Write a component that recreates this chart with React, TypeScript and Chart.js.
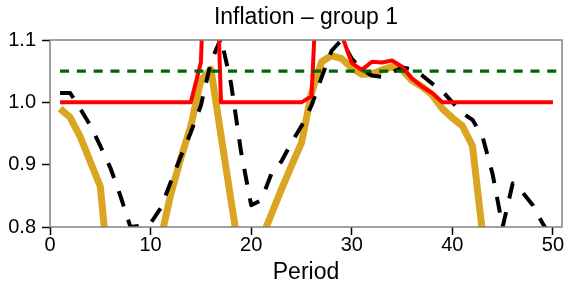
import React, { useEffect, useRef } from "react";
import { Chart, registerables } from "chart.js";

Chart.register(...registerables);

const periods = [
  1, 2, 3, 4, 5, 6, 7, 8, 9, 10, 11, 12, 13, 14, 15, 16, 17, 18, 19, 20, 21, 22, 23, 24, 25,
  26, 27, 28, 29, 30, 31, 32, 33, 34, 35, 36, 37, 38, 39, 40, 41, 42, 43, 44, 45, 46, 47, 48, 49, 50,
];

const redValues = [
  1.0, 1.0, 1.0, 1.0, 1.0, 1.0, 1.0, 1.0, 1.0, 1.0, 1.0, 1.0, 1.0, 1.0, 1.064, 1.5, 1.0, 1.0, 1.0, 1.0,
  1.0, 1.0, 1.0, 1.0, 1.0, 1.01, 1.35, 1.25, 1.108, 1.063, 1.052, 1.065, 1.064, 1.067, 1.057, 1.038, 1.025, 1.015, 1.0, 1.0,
  1.0, 1.0, 1.0, 1.0, 1.0, 1.0, 1.0, 1.0, 1.0, 1.0,
];

const blackValues = [
  1.015, 1.015, 0.99, 0.963, 0.93, 0.895, 0.85, 0.8, 0.802, 0.806, 0.83, 0.872, 0.913, 0.952, 0.995, 1.065, 1.103, 1.03, 0.92, 0.835,
  0.843, 0.885, 0.905, 0.935, 0.962, 0.995, 1.04, 1.083, 1.1, 1.07, 1.053, 1.043, 1.041, 1.048, 1.056, 1.053, 1.043, 1.03, 1.018, 1.0,
  0.983, 0.972, 0.945, 0.885, 0.8, 0.87, 0.855, 0.835, 0.805, 0.78,
];

const goldValues = [
  0.99, 0.976, 0.945, 0.905, 0.865, 0.7, 0.62, 0.58, 0.6, 0.66, 0.78, 0.852, 0.91, 0.962, 1.035, 1.053, 0.947, 0.842, 0.74, 0.7,
  0.78, 0.82, 0.86, 0.898, 0.935, 1.015, 1.065, 1.075, 1.07, 1.055, 1.045, 1.046, 1.052, 1.057, 1.052, 1.035, 1.025, 1.012, 0.99, 0.975,
  0.962, 0.93, 0.79, 0.62, 0.55, 0.5, 0.48, 0.5, 0.52, 0.55,
];

const targetPeriods = [1, 51];
const targetValues = [1.05, 1.05];

const xTicks = [0, 10, 20, 30, 40, 50];
const yTicks = [0.8, 0.9, 1.0, 1.1];

const titleText = "Inflation – group 1";
const xLabel = "Period";

const FONT = "'Liberation Sans', Arial, sans-serif";

function toPoints(xs: number[], ys: number[]) {
  return xs.map((x, i) => ({ x, y: ys[i] }));
}

const framePlugin = {
  id: "frame",
  afterDatasetsDraw(chart: any) {
    const { ctx, chartArea } = chart;
    ctx.save();
    ctx.strokeStyle = "#808080";
    ctx.lineWidth = 1.5;
    ctx.strokeRect(chartArea.left, chartArea.top, chartArea.right - chartArea.left, chartArea.bottom - chartArea.top);
    ctx.restore();
  },
};

export default function App() {
  const canvasRef = useRef<HTMLCanvasElement | null>(null);

  useEffect(() => {
    const canvas = canvasRef.current;
    if (!canvas) return;
    const tickFont = { family: FONT, size: 20, lineHeight: 1 };
    const gridOpts = {
      drawOnChartArea: false,
      drawTicks: true,
      tickLength: 8,
      tickColor: "#000",
      tickWidth: 1.5,
      color: "#000",
    };
    const chart = new Chart(canvas, {
      type: "line",
      data: {
        datasets: [
          {
            label: "target",
            data: toPoints(targetPeriods, targetValues),
            borderColor: "#006400",
            borderWidth: 3.3,
            borderDash: [9, 7.8],
            pointRadius: 0,
            tension: 0,
            clip: 0,
          },
          {
            label: "red",
            data: toPoints(periods, redValues),
            borderColor: "#ff0000",
            borderWidth: 4,
            pointRadius: 0,
            tension: 0,
            borderJoinStyle: "round",
            clip: 0,
          },
          {
            label: "black",
            data: toPoints(periods, blackValues),
            borderColor: "#000000",
            borderWidth: 4,
            borderDash: [16, 14],
            pointRadius: 0,
            tension: 0,
            borderJoinStyle: "round",
            clip: 0,
          },
          {
            label: "gold",
            data: toPoints(periods, goldValues),
            borderColor: "#daa520",
            borderWidth: 7,
            pointRadius: 0,
            tension: 0,
            borderJoinStyle: "round",
            clip: 0,
          },
        ],
      } as any,
      options: {
        animation: false,
        responsive: false,
        maintainAspectRatio: false,
        layout: { padding: { left: 0, right: 4, top: 0, bottom: 0 } },
        plugins: {
          legend: { display: false },
          tooltip: { enabled: false },
          title: {
            display: true,
            fullSize: false,
            text: titleText,
            color: "#000",
            font: { family: FONT, size: 23, weight: "normal", lineHeight: 1 },
            padding: { top: 6.5, bottom: 10.5 },
          },
        },
        scales: {
          x: {
            type: "linear",
            min: 0,
            max: 50.9,
            afterBuildTicks: (s: any) => {
              s.ticks = xTicks.map((v) => ({ value: v }));
            },
            afterFit: (s: any) => {
              s.height = 61;
            },
            grid: gridOpts,
            border: { display: false },
            ticks: {
              font: tickFont,
              color: "#000",
              padding: 0,
              maxRotation: 0,
              autoSkip: false,
              callback: (v: any) => String(v),
            },
            title: {
              display: true,
              text: xLabel,
              color: "#000",
              font: { family: FONT, size: 23, lineHeight: 1 },
              padding: { top: 0, bottom: 3.5 },
            },
          },
          y: {
            type: "linear",
            min: 0.8,
            max: 1.1,
            afterBuildTicks: (s: any) => {
              s.ticks = yTicks.map((v) => ({ value: v }));
            },
            afterFit: (s: any) => {
              s.width = 50;
            },
            grid: gridOpts,
            border: { display: false },
            ticks: {
              font: tickFont,
              color: "#000",
              padding: 6,
              autoSkip: false,
              callback: (v: any) => Number(v).toFixed(1),
            },
          },
        },
      } as any,
      plugins: [framePlugin],
    });
    return () => chart.destroy();
  }, []);

  return (
    <div style={{ position: "fixed", left: 0, top: 0, width: 566, height: 288, background: "#fff" }}>
      <canvas ref={canvasRef} width={566} height={288} style={{ display: "block", width: 566, height: 288 }} />
    </div>
  );
}
